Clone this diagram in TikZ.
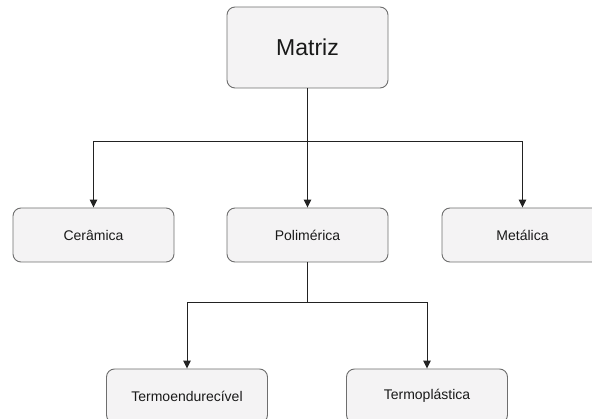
\documentclass[tikz,border=0pt]{standalone}
\usepackage{fontspec}
\setmainfont{Liberation Sans}
\usetikzlibrary{arrows.meta}
\definecolor{boxfill}{HTML}{F4F3F4}
\definecolor{boxline}{HTML}{6E6E6E}
\definecolor{wire}{HTML}{222222}
\begin{document}
\begin{tikzpicture}[x=1pt,y=-1pt,
  catbox/.style={draw=boxline, fill=boxfill, rounded corners=8pt, line width=0.9pt,
    minimum width=161pt, minimum height=54pt, inner sep=0pt, font=\fontsize{14}{17}\selectfont, text=black!90},
  rootbox/.style={catbox, minimum height=81pt, font=\fontsize{23}{28}\selectfont},
  link/.style={draw=wire, line width=1pt, -{Triangle[length=8pt,width=7.5pt]}}]
\useasboundingbox (0,0) rectangle (592,419);
\node[rootbox] (matriz) at (307.5,47.5) {Matriz};
\node[catbox] (ceramica) at (93.5,235) {Cerâmica};
\node[catbox] (polimerica) at (307.5,235) {Polimérica};
\node[catbox] (metalica) at (522.5,235) {Metálica};
\node[catbox] (termoend) at (187,396) {Termoendurecível};
\node[catbox] (termoplas) at (427,396) {Termoplástica};
\coordinate (split1) at (307.5,142);
\coordinate (split2) at (307.5,303);
\draw[draw=wire, line width=1pt] (matriz.south) -- (split1);
\draw[link] (split1) -| (ceramica.north);
\draw[link] (split1) -- (polimerica.north);
\draw[link] (split1) -| (metalica.north);
\draw[draw=wire, line width=1pt] (polimerica.south) -- (split2);
\draw[link] (split2) -| (termoend.north);
\draw[link] (split2) -| (termoplas.north);
\end{tikzpicture}
\end{document}
